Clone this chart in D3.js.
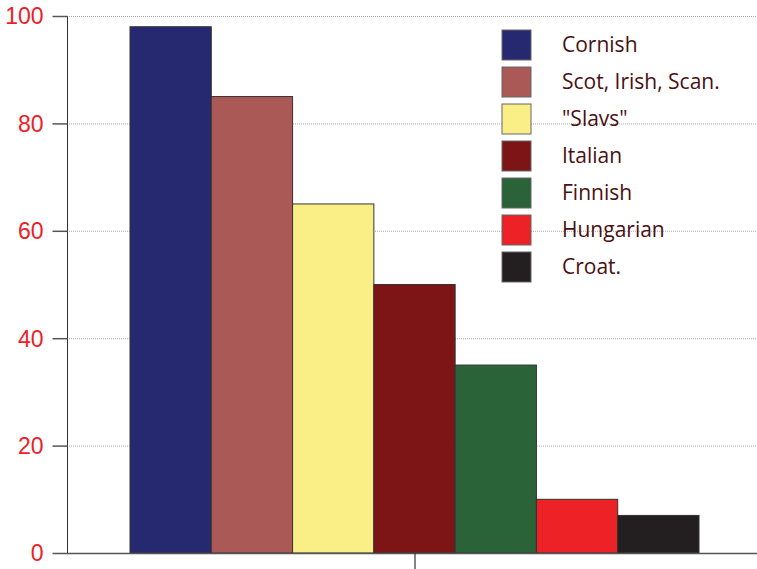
<!DOCTYPE html>
<html><head><meta charset="utf-8">
<script src="https://cdn.jsdelivr.net/npm/d3@7"></script>
<style>body{margin:0;background:#fff}svg{display:block}</style>
</head><body><svg id="c" width="757" height="569"></svg>
<script>
const categories = ["Cornish","Scot, Irish, Scan.","\"Slavs\"","Italian","Finnish","Hungarian","Croat."];
const values = [98,85,65,50,35,10,7];
const colors = ["#262970","#ab5957","#f9ef86","#7d1517","#2a6338","#ec2227","#231f20"];
const yTicks = [0,20,40,60,80,100];

const svg = d3.select("#c");
const y = d3.scaleLinear().domain([0,100]).range([553,16]);
const x = d3.scaleBand().domain(categories).range([130,699]).padding(0);

// gridlines
svg.append("g").selectAll("line").data(yTicks.filter(d=>d>0)).join("line")
  .attr("x1",67).attr("x2",757).attr("y1",d=>y(d)+0.5).attr("y2",d=>y(d)+0.5)
  .attr("stroke","#aaa").attr("stroke-width",1).attr("stroke-dasharray","1,1");

// y axis
const yAxis = d3.axisLeft(y).tickValues(yTicks).tickSize(15).tickPadding(9);
const gy = svg.append("g").attr("transform","translate(67.5,0)").call(yAxis);
gy.select(".domain").attr("stroke","#333").attr("d","M0,"+y(100)+"V"+y(0));
gy.selectAll(".tick line").attr("stroke","#555").attr("stroke-width",1.5);
gy.selectAll(".tick text").attr("fill","#ee2027")
  .attr("font-family","'Liberation Sans Narrow', 'Arial Narrow', sans-serif")
  .attr("font-size",23).attr("dy","0.34em");

// bars
svg.append("g").selectAll("rect").data(values).join("rect")
  .attr("x",(d,i)=>x(categories[i])).attr("width",x.bandwidth())
  .attr("y",d=>y(d)).attr("height",d=>y(0)-y(d))
  .attr("fill",(d,i)=>colors[i]).attr("stroke","#333").attr("stroke-width",1);

// x axis
svg.append("line").attr("x1",67).attr("x2",757).attr("y1",553.5).attr("y2",553.5)
  .attr("stroke","#555").attr("stroke-width",1.5);
svg.append("line").attr("x1",415).attr("x2",415).attr("y1",553).attr("y2",569)
  .attr("stroke","#333").attr("stroke-width",1.2);

// legend
const lg = svg.append("g");
const items = lg.selectAll("g").data(categories).join("g")
  .attr("transform",(d,i)=>`translate(502,${30+i*37})`);
items.append("rect").attr("width",29).attr("height",30)
  .attr("fill",(d,i)=>colors[i]).attr("stroke","#666").attr("stroke-width",1);
items.append("text").attr("x",60).attr("y",15).attr("dy","0.35em")
  .attr("fill","#4a1012").attr("font-family","'Open Sans', sans-serif")
  .attr("font-size",21).text(d=>d);
</script></body></html>
